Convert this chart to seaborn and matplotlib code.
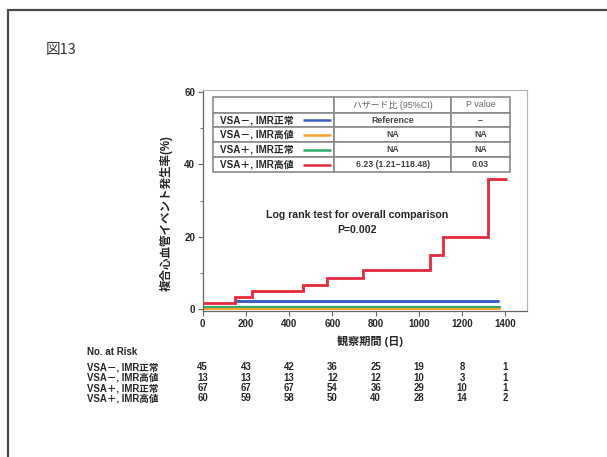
import matplotlib
matplotlib.use("Agg")
import matplotlib.pyplot as plt
import pandas as pd
import seaborn as sns
from matplotlib.lines import Line2D
from matplotlib.transforms import blended_transform_factory

# ---- groups and colours ----
groups = ["VSA－, IMR正常", "VSA－, IMR高値", "VSA＋, IMR正常", "VSA＋, IMR高値"]
colors = ["#3a5fc2", "#f2a32a", "#2ea96b", "#e6283c"]
line_widths = [2.1, 1.5, 1.6, 2.0]

# ---- cumulative incidence of composite cardiovascular events (%) ----
days_neg_normal = [150, 1365]
rate_neg_normal = [2.2, 2.2]
days_neg_high = [0, 1375]
rate_neg_high = [0.0, 0.0]
days_pos_normal = [0, 1375]
rate_pos_normal = [0.6, 0.6]
days_pos_high = [0, 150, 226, 465, 573, 743, 1051, 1113, 1321, 1405]
rate_pos_high = [1.7, 3.4, 5.0, 6.7, 8.5, 10.9, 15.0, 19.8, 36.0, 36.0]

# ---- hazard ratio table ----
table_header = ["", "ハザード比 (95%CI)", "P value"]
hazard_ratio = ["Reference", "NA", "NA", "6.23 (1.21\u2212118.48)"]
p_values = ["\u2013", "NA", "NA", "0.03"]

# ---- number at risk ----
risk_days = [0, 200, 400, 600, 800, 1000, 1200, 1400]
risk_neg_normal = [45, 43, 42, 36, 25, 19, 8, 1]
risk_neg_high = [13, 13, 13, 12, 12, 10, 3, 1]
risk_pos_normal = [67, 67, 67, 54, 36, 29, 10, 1]
risk_pos_high = [60, 59, 58, 50, 40, 28, 14, 2]

sns.set_style("ticks")
plt.rcParams["font.family"] = ["Liberation Sans", "Noto Sans CJK JP"]
plt.rcParams["text.color"] = "#262626"

W, H = 607, 457
fig = plt.figure(figsize=(W / 100, H / 100), dpi=100)
fig.patch.set_facecolor("white")

# page frame (top and left rules)
fig.add_artist(Line2D([7.5 / W, 1.0], [1 - 9.5 / H, 1 - 9.5 / H],
                      transform=fig.transFigure, color="#4a4a4a", lw=1.6))
fig.add_artist(Line2D([7.5 / W, 7.5 / W], [0.0, 1 - 9.5 / H],
                      transform=fig.transFigure, color="#4a4a4a", lw=1.6))
fig.text(46 / W, 1 - 50 / H, "図13", fontsize=10.5, va="center", ha="left",
         color="#333333", family=["Noto Sans CJK JP"])

ax_l, ax_r, ax_t, ax_b = 202.7, 527.0, 90.2, 311.2
ax = fig.add_axes([ax_l / W, 1 - ax_b / H, (ax_r - ax_l) / W, (ax_b - ax_t) / H])

curves = [
    (days_neg_normal, rate_neg_normal),
    (days_neg_high, rate_neg_high),
    (days_pos_normal, rate_pos_normal),
    (days_pos_high, rate_pos_high),
]
frames = []
for g, (d, r) in enumerate(curves):
    frames.append(pd.DataFrame({"day": d, "rate": r, "group": groups[g]}))
df = pd.concat(frames, ignore_index=True)

for g in [0, 2, 1, 3]:
    sub = df[df["group"] == groups[g]]
    sns.lineplot(data=sub, x="day", y="rate", ax=ax, color=colors[g],
                 lw=line_widths[g], drawstyle="steps-post", estimator=None,
                 sort=False, legend=False, solid_joinstyle="miter")

ax.set_xlim(0, 1500)
ax.set_ylim(-0.6, 60.5)
ax.set_xticks(range(0, 1401, 200))
ax.set_yticks([0, 20, 40, 60])
ax.set_yticks([10, 30, 50], minor=True)
ax.set_xlabel("")
ax.set_ylabel("")
ax.tick_params(axis="both", which="major", direction="out", length=3.5,
               width=0.8, color="#666666", labelsize=7, pad=2,
               labelcolor="#262626")
ax.tick_params(axis="y", which="minor", direction="out", length=2.5,
               width=0.7, color="#777777")
for lab in ax.get_xticklabels() + ax.get_yticklabels():
    lab.set_fontweight("bold")
for side in ["left", "bottom"]:
    ax.spines[side].set_color("#666666")
    ax.spines[side].set_linewidth(0.9)
for side in ["top", "right"]:
    ax.spines[side].set_color("#b5b5b5")
    ax.spines[side].set_linewidth(0.8)

fig.text(166 / W, 1 - 213 / H, "複合心血管イベント発生率(%)", rotation=90,
         ha="center", va="center", fontsize=8.3, fontweight="bold")
fig.text(370 / W, 1 - 341 / H, "観察期間 (日)", ha="center", va="center",
         fontsize=8, fontweight="bold")

ax.text(714, 26.0, "Log rank test for overall comparison", ha="center",
        va="center", fontsize=7.6, fontweight="bold")
ax.text(714, 21.8, "P=0.002", ha="center", va="center", fontsize=7.6,
        fontweight="bold")

# hazard ratio table inside the plot area
cell_rows = [[g, h, p] for g, h, p in zip(groups, hazard_ratio, p_values)]
col_w = [121.0, 116.7, 59.0]
tot_w = sum(col_w)
tb_x0 = (213.3 - ax_l) / (ax_r - ax_l)
tb_w = 296.7 / (ax_r - ax_l)
tb_top = (ax_b - 96.7) / (ax_b - ax_t)
tb_bot = (ax_b - 172.3) / (ax_b - ax_t)
tab = ax.table(cellText=cell_rows, colLabels=table_header, cellLoc="center",
               colWidths=[c / tot_w for c in col_w],
               bbox=[tb_x0, tb_bot, tb_w, tb_top - tb_bot])
tab.auto_set_font_size(False)
row_h = [16.6, 13.8, 15.0, 15.0, 15.2]
for (r, c), cell in tab.get_celld().items():
    cell.set_height(row_h[r])
    cell.set_edgecolor("#8a8a8a")
    cell.set_linewidth(1.2)
    cell.set_facecolor("white")
    t = cell.get_text()
    if r == 0:
        t.set_fontsize(6.4)
        t.set_color("#666666")
    elif c == 0:
        t.set_fontsize(7.1)
        t.set_fontweight("bold")
        t.set_ha("left")
        cell.PAD = 0.055
    else:
        t.set_fontsize(6.3)
        t.set_fontweight("bold")
        t.set_color("#444444")

scale = (tb_top - tb_bot) / sum(row_h)
for i in range(4):
    yc = tb_top - (sum(row_h[: i + 1]) + row_h[i + 1] / 2) * scale
    ax.plot([0.309, 0.396], [yc, yc], transform=ax.transAxes, color=colors[i],
            lw=1.8, solid_capstyle="butt", zorder=10)

# number-at-risk table under the x axis
trans = blended_transform_factory(ax.transData, fig.transFigure)
fig.text(87 / W, 1 - 352 / H, "No. at Risk", ha="left", va="center",
         fontsize=7.0, fontweight="bold")
risk_rows = [risk_neg_normal, risk_neg_high, risk_pos_normal, risk_pos_high]
row_y = [367.5, 377.8, 388.1, 398.4]
for g, counts, y in zip(groups, risk_rows, row_y):
    fig.text(87 / W, 1 - y / H, g, ha="left", va="center", fontsize=6.9,
             fontweight="bold")
    for d, n in zip(risk_days, counts):
        ax.text(d, 1 - y / H, str(n), transform=trans, ha="center",
                va="center", fontsize=6.9, fontweight="bold", clip_on=False)

fig.savefig("out.png", dpi=100)
